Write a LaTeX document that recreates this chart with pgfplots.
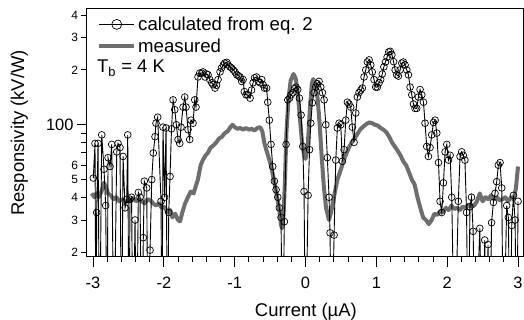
\documentclass[border=0pt]{standalone}
\usepackage{fontspec}
\setmainfont{Liberation Sans}
\usepackage{pgfplots}
\pgfplotsset{compat=1.18}
\definecolor{meas}{RGB}{110,110,110}
\begin{document}
\begin{tikzpicture}
\begin{axis}[
  name=ax,
  scale only axis,
  width=436bp, height=248bp,
  ymode=log,
  xmin=-3.085, xmax=3.07,
  ymin=18.8, ymax=432,
  axis line style={line width=1bp},
  tick align=outside,
  xtick pos=left, ytick pos=left,
  major tick length=10bp, minor tick length=5bp,
  tick style={line width=1bp, black},
  xtick={-3,-2,-1,0,1,2,3},
  xticklabels={-3,-2,-1,0,1,2,3},
  xticklabel style={yshift=-7bp},
  minor x tick num=4,
  ytick={100}, yticklabels={100},
  extra y ticks={20,30,40,50,60,70,80,90,200,300,400},
  extra y tick labels={2,3,4,5,6,,,,2,3,4},
  extra y tick style={major tick length=5.5bp, tick label style={font=\fontsize{12}{12}\selectfont}},
  /pgf/number format/assume math mode=true,
  tick label style={font=\fontsize{16.5}{16.5}\selectfont},
  xlabel={Current (µA)},
  ylabel={Responsivity (kV/W)},
  label style={font=\fontsize{18.5}{18.5}\selectfont},
  xlabel style={at={(axis description cs:0.502,-0.222)}, anchor=center},
  ylabel style={at={(axis description cs:-0.155,0.5)}, anchor=center},
  reverse legend,
  legend cell align=left,
  legend style={draw=none, fill=none, inner sep=0pt, at={(axis description cs:0.023,0.977)}, anchor=north west, font=\fontsize{18.7}{20}\selectfont, row sep=3bp},
  legend image code/.code={\draw[mark repeat=2,mark phase=2,mark size=5bp,#1] plot coordinates {(0bp,0bp) (17.5bp,0bp) (35bp,0bp)};},
]
\addplot[meas, line width=4bp, line join=round] coordinates {
(-3.02,42) (-2.98,40) (-2.95,42) (-2.92,40) (-2.88,43) (-2.85,48) (-2.82,46) (-2.79,42) (-2.75,41) (-2.71,39) (-2.67,40) (-2.63,38) (-2.59,39) (-2.55,37.5) (-2.51,38.5) (-2.47,38) (-2.43,39.5) (-2.39,38) (-2.35,39) (-2.31,38) (-2.27,37) (-2.23,39) (-2.19,38.5) (-2.15,37) (-2.11,36) (-2.07,37) (-2.03,35) (-1.99,35.5) (-1.95,33) (-1.91,34) (-1.88,31) (-1.84,32.5) (-1.80,30) (-1.77,29.5) (-1.74,33) (-1.70,37) (-1.66,40) (-1.62,43) (-1.58,42) (-1.55,46) (-1.52,50) (-1.48,60) (-1.45,64) (-1.41,68) (-1.38,70) (-1.34,75) (-1.30,77) (-1.26,80) (-1.22,84) (-1.18,86) (-1.14,90) (-1.10,92) (-1.06,97) (-1.03,100) (-1.00,97) (-0.96,95) (-0.92,96) (-0.88,94) (-0.84,96) (-0.80,94) (-0.76,95) (-0.72,93) (-0.68,96) (-0.64,97) (-0.61,92) (-0.58,79) (-0.55,72) (-0.52,66) (-0.49,60) (-0.46,53) (-0.43,46) (-0.40,40) (-0.37,34) (-0.345,28) (-0.33,27) (-0.31,32) (-0.29,50) (-0.27,90) (-0.24,140) (-0.21,175) (-0.17,190) (-0.14,180) (-0.11,150) (-0.08,110) (-0.05,80) (-0.02,68) (0.00,65) (0.03,75) (0.06,120) (0.09,170) (0.11,178) (0.14,165) (0.17,140) (0.20,100) (0.23,65) (0.26,45) (0.29,35) (0.33,30) (0.36,33) (0.40,40) (0.45,50) (0.50,57) (0.54,64) (0.58,70) (0.62,76) (0.66,81) (0.70,85) (0.74,90) (0.78,95) (0.82,98) (0.86,101) (0.90,103) (0.94,102) (0.98,100) (1.02,99) (1.06,96) (1.10,94) (1.14,91) (1.18,86) (1.22,80) (1.26,76) (1.30,72) (1.34,68) (1.38,63) (1.42,60) (1.46,55) (1.50,50) (1.54,47) (1.58,40) (1.62,35) (1.66,31) (1.70,30) (1.74,28.5) (1.78,30) (1.82,32.5) (1.86,32) (1.90,33.5) (1.94,33) (1.98,35) (2.02,34) (2.06,36) (2.10,34.5) (2.14,35) (2.18,34) (2.22,35.5) (2.26,35) (2.30,36.5) (2.34,35.5) (2.38,36) (2.42,38) (2.46,42) (2.50,38) (2.54,40) (2.58,39) (2.62,41) (2.66,39) (2.70,40) (2.74,38.5) (2.78,39) (2.82,40) (2.86,38) (2.90,40) (2.94,39) (2.97,45) (3.00,59)
};
\addlegendentry{measured}
\addplot[black, line width=0.9bp, mark=o, mark size=3.4bp, mark options={line width=0.7bp}] coordinates {
(-2.996,51) (-2.972,79) (-2.958,5) (-2.948,33) (-2.929,79) (-2.908,5) (-2.877,88) (-2.845,57) (-2.821,36) (-2.802,5) (-2.788,66) (-2.760,59) (-2.736,78) (-2.705,5) (-2.665,71) (-2.647,79) (-2.619,75) (-2.598,5) (-2.576,67) (-2.548,35) (-2.524,39) (-2.510,88) (-2.492,5) (-2.478,39) (-2.456,40) (-2.435,5) (-2.407,30) (-2.386,5) (-2.360,42.5) (-2.336,40) (-2.315,5) (-2.290,24) (-2.276,49) (-2.242,45) (-2.223,5) (-2.195,20.5) (-2.171,50) (-2.149,70) (-2.125,86) (-2.111,102) (-2.087,110) (-2.040,38) (-2.026,5) (-2.012,97) (-1.990,40) (-1.969,96) (-1.950,5) (-1.931,33) (-1.913,52) (-1.892,95) (-1.870,137) (-1.846,121) (-1.824,100) (-1.800,83) (-1.776,79) (-1.758,97) (-1.729,125) (-1.705,142) (-1.687,125) (-1.659,94) (-1.635,83) (-1.616,106) (-1.588,102) (-1.564,137) (-1.546,125) (-1.518,183) (-1.494,192) (-1.465,192) (-1.447,195) (-1.419,183) (-1.398,190) (-1.376,188) (-1.352,177) (-1.324,170) (-1.306,166) (-1.278,159) (-1.256,165) (-1.235,177) (-1.207,195) (-1.186,205) (-1.160,213) (-1.141,218) (-1.112,220) (-1.094,213) (-1.066,208) (-1.045,205) (-1.019,200) (-0.995,195) (-0.971,188) (-0.948,186) (-0.925,183) (-0.901,173) (-0.882,177) (-0.864,152) (-0.840,146) (-0.816,146) (-0.783,140) (-0.762,155) (-0.741,170) (-0.720,181) (-0.692,183) (-0.666,173) (-0.642,170) (-0.618,177) (-0.600,166) (-0.579,159) (-0.550,159) (-0.533,133) (-0.511,106) (-0.487,78) (-0.463,59) (-0.440,49) (-0.416,44) (-0.392,40) (-0.370,35) (-0.346,31) (-0.324,5) (-0.299,29.4) (-0.275,78) (-0.251,137) (-0.225,140) (-0.204,146) (-0.179,150) (-0.155,158) (-0.134,161) (-0.110,156) (-0.086,140) (-0.063,113) (-0.039,76) (-0.021,43) (0.000,5) (0.036,41) (0.057,73) (0.074,102) (0.096,132) (0.120,150) (0.144,161) (0.167,168) (0.191,173) (0.215,161) (0.239,150) (0.262,137) (0.286,100) (0.308,66) (0.332,40) (0.346,25.5) (0.367,5) (0.403,24.8) (0.427,64) (0.449,96) (0.473,102) (0.497,100) (0.520,63) (0.544,73) (0.568,106) (0.591,133) (0.614,130) (0.638,125) (0.661,97) (0.685,80) (0.709,116) (0.732,142) (0.755,150) (0.780,155) (0.802,159) (0.826,183) (0.850,200) (0.873,221) (0.897,227) (0.921,213) (0.943,195) (0.967,177) (0.991,161) (1.014,161) (1.038,170) (1.061,177) (1.083,190) (1.106,208) (1.129,221) (1.151,235) (1.174,251) (1.196,253) (1.219,242) (1.243,222) (1.265,200) (1.288,188) (1.311,185) (1.335,200) (1.359,218) (1.381,221) (1.405,213) (1.429,200) (1.453,188) (1.476,161) (1.500,146) (1.524,130) (1.546,123) (1.570,123) (1.594,142) (1.617,156) (1.641,146) (1.665,133) (1.687,102) (1.711,76) (1.735,67) (1.758,75) (1.782,88) (1.806,103) (1.829,106) (1.853,90) (1.877,62) (1.899,38) (1.923,33) (1.947,48) (1.970,71) (1.994,78) (2.018,64) (2.041,68) (2.064,40) (2.104,5) (2.157,38) (2.181,67) (2.204,71) (2.227,68) (2.250,64) (2.273,33) (2.297,5) (2.321,35.5) (2.343,40) (2.366,26) (2.396,5) (2.460,27) (2.495,5) (2.530,23.3) (2.554,5) (2.576,22) (2.600,5) (2.626,29) (2.652,37.5) (2.675,42) (2.699,48.7) (2.722,60) (2.746,62) (2.770,45) (2.793,5) (2.840,36) (2.863,31) (2.887,5) (2.911,28) (2.935,41) (2.958,30) (2.982,5) (3.000,38)
};
\addlegendentry{calculated from eq. 2}
\node[anchor=west, font=\fontsize{18.5}{18.5}\selectfont, inner sep=0pt] at (axis description cs:0.023,0.762) {T\textsubscript{b} = 4 K};
\end{axis}
\pgfresetboundingbox
\path[use as bounding box] ([shift={(-87bp,-63bp)}]ax.south west) rectangle ([shift={(1bp,9bp)}]ax.north east);
\end{tikzpicture}
\end{document}
